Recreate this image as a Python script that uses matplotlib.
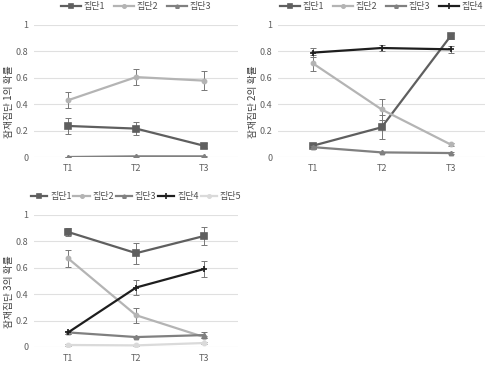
import matplotlib.pyplot as plt

plt.rcParams['font.family'] = ['Noto Sans CJK KR', 'DejaVu Sans']

times = ['T1', 'T2', 'T3']
names = ['집단1', '집단2', '집단3', '집단4', '집단5']

# panel 1: latent class 1
p1_vals = [[0.235, 0.215, 0.085],
           [0.43, 0.605, 0.578],
           [0.0, 0.005, 0.005]]
p1_errs = [[0.06, 0.05, 0.02],
           [0.06, 0.06, 0.07],
           [0.003, 0.003, 0.003]]

# panel 2: latent class 2
p2_vals = [[0.085, 0.225, 0.915],
           [0.71, 0.36, 0.095],
           [0.075, 0.035, 0.03],
           [0.79, 0.825, 0.815]]
p2_errs = [[0.02, 0.09, 0.02],
           [0.06, 0.08, 0.01],
           [0.005, 0.005, 0.005],
           [0.035, 0.02, 0.025]]

# panel 3: latent class 3
p3_vals = [[0.87, 0.71, 0.84],
           [0.67, 0.24, 0.075],
           [0.11, 0.075, 0.09],
           [0.11, 0.45, 0.59],
           [0.015, 0.012, 0.03]]
p3_errs = [[0.03, 0.08, 0.065],
           [0.065, 0.055, 0.01],
           [0.01, 0.01, 0.02],
           [0.01, 0.06, 0.06],
           [0.005, 0.005, 0.005]]

colors = ['#5f5f5f', '#b4b4b4', '#808080', '#1e1e1e', '#dadada']
markers = ['s', 'o', '^', '+', 'o']
msizes = [4, 3, 3, 5, 3]

fig = plt.figure(figsize=(4.88, 3.66), dpi=100)

panels = [
    (p1_vals, p1_errs, [0.070, 0.571, 0.418, 0.361], '잠재집단 1의 확률', 0.982),
    (p2_vals, p2_errs, [0.570, 0.571, 0.424, 0.361], '잠재집단 2의 확률', 0.982),
    (p3_vals, p3_errs, [0.070, 0.052, 0.418, 0.361], '잠재집단 3의 확률', 0.462),
]

x = range(len(times))
for vals, errs, pos, ylab, ly in panels:
    ax = fig.add_axes(pos)
    for i in range(len(vals)):
        ax.errorbar(x, vals[i], yerr=errs[i], fmt='none', elinewidth=0.7,
                    ecolor='#777777', capsize=2, capthick=0.7)
        ax.plot(x, vals[i], color=colors[i], marker=markers[i],
                markersize=msizes[i], markeredgewidth=1.2, linewidth=1.6,
                label=names[i])
    ax.set_xlim(-0.5, 2.5)
    ax.set_ylim(0, 1)
    ax.set_yticks([0, 0.2, 0.4, 0.6, 0.8, 1])
    ax.set_yticklabels(['0', '0.2', '0.4', '0.6', '0.8', '1'])
    ax.set_xticks(list(x))
    ax.set_xticklabels(times)
    ax.grid(axis='y', color='#e0e0e0', linewidth=0.8)
    ax.set_axisbelow(True)
    for s in ax.spines.values():
        s.set_visible(False)
    ax.tick_params(length=0, labelsize=6.5, colors='#606060', pad=4)
    ax.tick_params(axis='x', pad=5)
    fig.text(pos[0] - 0.052, pos[1] + pos[3] * 0.42, ylab, rotation=90,
             ha='center', va='center', fontsize=7, color='#404040')
    five = len(vals) == 5
    ax.legend(loc='center', bbox_to_anchor=(0.5, (ly - pos[1]) / pos[3]),
              ncol=len(vals), frameon=False, fontsize=6.5,
              handlelength=1.8 if five else 2.2,
              handletextpad=0.3, columnspacing=0.2 if five else 1.0,
              labelcolor='#505050', markerscale=0.8)

plt.savefig('out.png', dpi=100)
